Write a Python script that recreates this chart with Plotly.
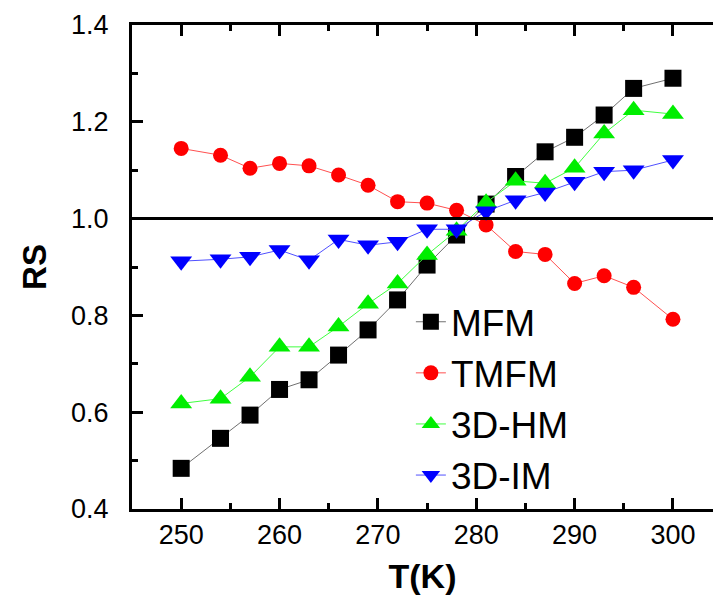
import plotly.graph_objects as go

T = [250, 254, 257, 260, 263, 266, 269, 272, 275, 278, 281, 284, 287, 290, 293, 296, 300]
mfm = [0.484, 0.546, 0.594, 0.647, 0.667, 0.718, 0.770, 0.832, 0.904, 0.966, 1.030, 1.087, 1.138, 1.168, 1.214, 1.269, 1.290]
tmfm = [1.145, 1.131, 1.104, 1.114, 1.109, 1.090, 1.069, 1.035, 1.032, 1.017, 0.987, 0.932, 0.926, 0.866, 0.882, 0.858, 0.792]
hm3d = [0.618, 0.628, 0.673, 0.735, 0.735, 0.777, 0.824, 0.866, 0.925, 0.975, 1.033, 1.078, 1.073, 1.105, 1.176, 1.224, 1.216]
im3d = [0.912, 0.916, 0.921, 0.935, 0.914, 0.957, 0.945, 0.952, 0.978, 0.978, 1.015, 1.038, 1.054, 1.076, 1.097, 1.100, 1.121]

names = ["MFM", "TMFM", "3D-HM", "3D-IM"]
colors = ["#000000", "#ff0000", "#00ee00", "#0000ff"]
line_colors = ["#707070", "#ff5050", "#40ff40", "#5050ff"]
symbols = ["square", "circle", "triangle-up", "triangle-down"]
sizes = [17, 15, 19, 19]
series = [mfm, tmfm, hm3d, im3d]

X_RANGE = [245, 304.07]
Y_RANGE = [0.4, 1.4]

FONT = "Liberation Sans, Arial, sans-serif"

fig = go.Figure()
for n, c, lc, s, sz, ys in zip(names, colors, line_colors, symbols, sizes, series):
    fig.add_trace(go.Scatter(
        x=T, y=ys, mode="lines+markers", name=n,
        line=dict(color=lc, width=1),
        marker=dict(color=c, symbol=s, size=sz, line=dict(width=0)),
    ))

fig.add_shape(type="line", xref="paper", yref="y", x0=0, x1=1, y0=1.0, y1=1.0,
              line=dict(color="black", width=3))

fig.update_xaxes(
    range=X_RANGE, showline=True, linecolor="black", linewidth=3, mirror="allticks",
    ticks="inside", ticklen=11, tickwidth=3, tickcolor="black",
    minor=dict(ticks="inside", ticklen=6, tickwidth=3, tickcolor="black", dtick=5),
    gridcolor="rgba(0,0,0,0)",
    tickfont=dict(family=FONT, size=27, color="black"),
    title=dict(text="<b>T(K)</b>", font=dict(family=FONT, size=34, color="black")),
)
fig.update_yaxes(
    range=Y_RANGE, showline=True, linecolor="black", linewidth=3,
    ticks="inside", ticklen=11, tickwidth=3, tickcolor="black",
    minor=dict(ticks="inside", ticklen=6, tickwidth=3, tickcolor="black", dtick=0.1),
    gridcolor="rgba(0,0,0,0)", tickformat=".1f", ticksuffix="  ",
    tickfont=dict(family=FONT, size=27, color="black"),
    title=dict(text="<b>RS</b>", font=dict(family=FONT, size=33, color="black")),
)

fig.update_layout(
    width=713, height=606,
    margin=dict(l=132, r=0, t=25, b=97),
    plot_bgcolor="white", paper_bgcolor="white",
    font=dict(family=FONT, color="black"),
    legend=dict(
        x=0.48, y=0.45, xanchor="left", yanchor="top",
        font=dict(family=FONT, size=37, color="black"),
        bgcolor="rgba(0,0,0,0)",
    ),
)

fig.write_html("out.html")
